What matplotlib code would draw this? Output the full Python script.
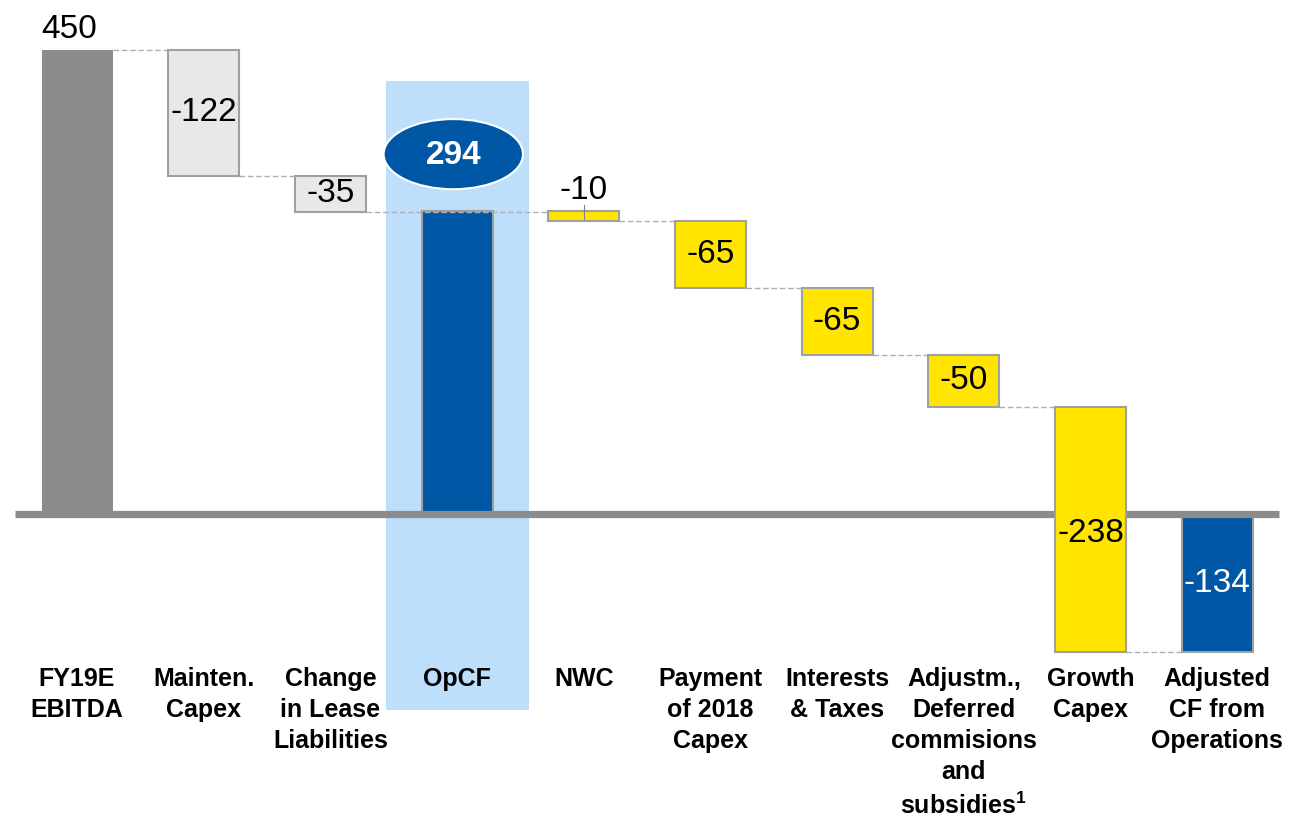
import numpy as np
import matplotlib
matplotlib.use("Agg")
import matplotlib.pyplot as plt
from matplotlib.patches import Rectangle, Ellipse

plt.rcParams['font.family'] = ['Liberation Sans', 'DejaVu Sans']
plt.rcParams['mathtext.fontset'] = 'custom'
plt.rcParams['mathtext.bf'] = 'Liberation Sans:bold'
plt.rcParams['mathtext.rm'] = 'Liberation Sans'

# Data
categories = ["FY19E\nEBITDA", "Mainten.\nCapex", "Change\nin Lease\nLiabilities", "OpCF", "NWC",
              "Payment\nof 2018\nCapex", "Interests\n& Taxes",
              "Adjustm.,\nDeferred\ncommisions\nand\nsubsidies$^{\\mathbf{1}}$",
              "Growth\nCapex", "Adjusted\nCF from\nOperations"]
values = [450, -122, -35, 294, -10, -65, -65, -50, -238, -134]
is_total = [True, False, False, True, False, False, False, False, False, True]
labels = ["450", "-122", "-35", "294", "-10", "-65", "-65", "-50", "-238", "-134"]

# colours
c_gray = "#8c8c8c"
c_light = "#e8e8e8"
c_yellow = "#ffe500"
c_blue = "#0057a5"
c_high = "#bddffb"
c_edge = "#a0a0a0"
colors = [c_gray, c_light, c_light, c_blue, c_yellow, c_yellow, c_yellow, c_yellow, c_yellow, c_blue]
edges = ["none", c_edge, c_edge, c_edge, c_edge, c_edge, c_edge, c_edge, c_edge, c_edge]

fig = plt.figure(figsize=(12.91, 8.16), dpi=100)
ax = fig.add_axes([0, 0, 1, 1])
ax.set_xlim(-0.608, 9.582)
ax.set_ylim(-292.9, 498.5)
ax.axis("off")

x = np.arange(len(values))
w = 0.56

# bottoms / tops
bottoms, tops = [], []
run = 0
for v, t in zip(values, is_total):
    if t:
        b, tp = 0, v
        run = v
    else:
        b, tp = run, run + v
        run = run + v
    bottoms.append(min(b, tp))
    tops.append(max(b, tp))
heights = [t - b for b, t in zip(bottoms, tops)]

# highlight behind OpCF
ax.add_patch(Rectangle((3 - 0.565, -190), 1.13, 610, facecolor=c_high, edgecolor="none", zorder=0))

# axis line
ax.plot([-0.49, 9.49], [0, 0], color=c_gray, lw=5.2, solid_capstyle="butt", zorder=2)

for i in range(len(values)):
    z = 3 if colors[i] == c_yellow else 1
    ax.bar(x[i], heights[i], bottom=bottoms[i], width=w, color=colors[i],
           edgecolor=edges[i], linewidth=1.5, zorder=z)

# connectors
levels = []
run = 0
for v, t in zip(values, is_total):
    run = v if t else run + v
    levels.append(run)
for i in range(len(values) - 1):
    lvl = levels[i]
    x0 = x[i] + w / 2
    x1 = x[i + 1] - w / 2
    if i == 2:
        x1 = x[4] - w / 2
        lvl = bottoms[2]
    if i == 3:
        continue
    ax.plot([x0, x1], [lvl, lvl], color="#b0b0b0", lw=1, ls=(0, (4, 2)), zorder=1.5)

# value labels
fs = 24
ax.text(x[0] - 0.06, tops[0] + 5, labels[0], ha="center", va="bottom", fontsize=fs)
for i in [1, 2, 5, 6, 7]:
    ax.text(x[i], (tops[i] + bottoms[i]) / 2, labels[i], ha="center", va="center", fontsize=fs, zorder=4)
ax.text(x[8], (tops[8] + bottoms[8]) / 2 - 4, labels[8], ha="center", va="center", fontsize=fs, zorder=4)
ax.text(x[9], (tops[9] + bottoms[9]) / 2, labels[9], ha="center", va="center", fontsize=fs,
        color="white", zorder=4)
ax.text(x[4], tops[4] + 5, labels[4], ha="center", va="bottom", fontsize=fs)
ax.plot([x[4], x[4]], [tops[4] - 8, tops[4] + 6], color="#808080", lw=0.8, zorder=4)

# ellipse for OpCF
ax.add_patch(Ellipse((x[3] - 0.03, 349), 1.1, 68, facecolor=c_blue, edgecolor="white", lw=1.5, zorder=4))
ax.text(x[3] - 0.03, 348, labels[3], ha="center", va="center", fontsize=fs, color="white",
        fontweight="bold", zorder=5)

# category labels
for i, c in enumerate(categories):
    ax.text(x[i], -148.5, c, ha="center", va="top", fontsize=18, fontweight="bold",
            linespacing=1.37, zorder=5)

fig.savefig("out.png", dpi=100)
